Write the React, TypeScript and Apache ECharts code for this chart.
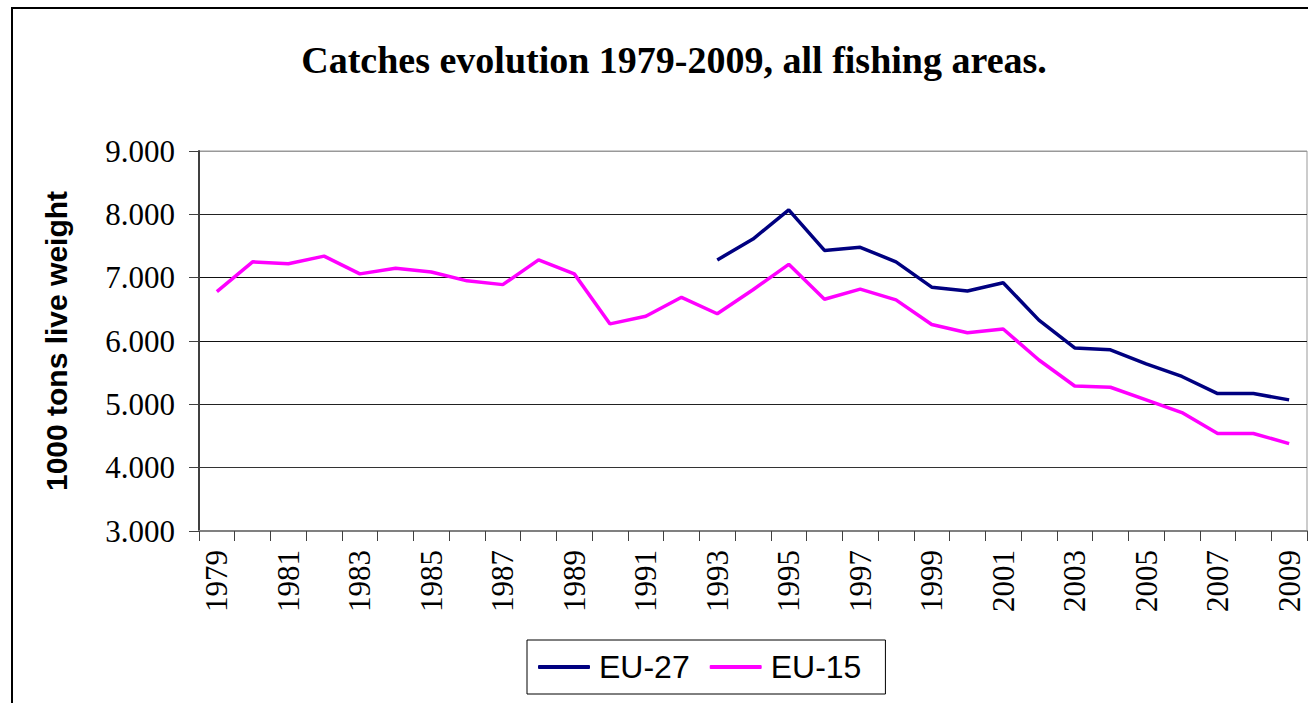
import React, { useEffect, useRef } from "react";
import * as echarts from "echarts";

const years: string[] = [
  "1979", "1980", "1981", "1982", "1983", "1984", "1985", "1986", "1987", "1988",
  "1989", "1990", "1991", "1992", "1993", "1994", "1995", "1996", "1997", "1998",
  "1999", "2000", "2001", "2002", "2003", "2004", "2005", "2006", "2007", "2008", "2009",
];

// 1000 tons live weight
const eu27: (number | null)[] = [
  null, null, null, null, null, null, null, null, null, null,
  null, null, null, null, 7280, 7610, 8070, 7430, 7480, 7250,
  6850, 6790, 6920, 6330, 5890, 5860, 5640, 5440, 5170, 5170, 5070,
];

const eu15: number[] = [
  6780, 7250, 7220, 7340, 7060, 7150, 7090, 6950, 6890, 7280,
  7060, 6270, 6390, 6690, 6430, 6810, 7210, 6660, 6820, 6650,
  6260, 6130, 6190, 5700, 5290, 5270, 5070, 4870, 4540, 4540, 4380,
];

const titleText = "Catches evolution 1979-2009, all fishing areas.";
const yAxisName = "1000 tons live weight";

const serif = "'Liberation Serif', 'Times New Roman', serif";
const sans = "'Liberation Sans', Arial, sans-serif";

export default function App() {
  const ref = useRef<HTMLDivElement>(null);

  useEffect(() => {
    if (!ref.current) return;
    const chart = echarts.init(ref.current, undefined, { renderer: "svg" });
    chart.setOption({
      animation: false,
      backgroundColor: "#ffffff",
      title: {
        text: titleText,
        left: 669,
        top: 36,
        textAlign: "center",
        textStyle: { fontFamily: serif, fontWeight: "bold", fontSize: 38, color: "#000" },
      },
      graphic: [
        {
          type: "rect",
          shape: { x: 12, y: 8, width: 1320, height: 720 },
          style: { fill: "none", stroke: "#000", lineWidth: 2 },
          silent: true,
        },
      ],
      legend: {
        left: 527,
        top: 640,
        orient: "horizontal",
        borderColor: "#000",
        borderWidth: 1,
        padding: [11, 24, 11, 11],
        itemWidth: 52,
        itemHeight: 4,
        itemGap: 20,
        icon: "roundRect",
        textStyle: { fontFamily: sans, fontSize: 32, color: "#000", padding: [0, 0, 0, 4] },
        data: ["EU-27", "EU-15"],
      },
      grid: {
        left: 199,
        right: 1,
        top: 151,
        bottom: 172,
        show: true,
        borderColor: "#999",
        borderWidth: 1,
      },
      xAxis: {
        type: "category",
        data: years,
        boundaryGap: true,
        axisLine: { show: true, lineStyle: { color: "#808080", width: 2 } },
        axisTick: { show: true, interval: 0, length: 10, lineStyle: { color: "#404040", width: 1 } },
        axisLabel: {
          interval: 1,
          rotate: 90,
          margin: 19,
          fontFamily: serif,
          fontSize: 31,
          color: "#000",
        },
        splitLine: { show: false },
      },
      yAxis: {
        type: "value",
        min: 3000,
        max: 9000,
        interval: 1000,
        name: yAxisName,
        nameLocation: "middle",
        nameRotate: 90,
        nameGap: 128,
        nameTextStyle: { fontFamily: sans, fontWeight: "bold", fontSize: 30, color: "#000" },
        axisLine: { show: true, lineStyle: { color: "#404040", width: 2 } },
        axisTick: { show: true, length: 10, lineStyle: { color: "#404040", width: 1 } },
        axisLabel: {
          margin: 24,
          fontFamily: serif,
          fontSize: 31,
          color: "#000",
          formatter: (v: number) => {
            const t = Math.floor(v / 1000);
            const r = String(v % 1000).padStart(3, "0");
            return `${t}.${r}`;
          },
        },
        splitLine: {
          show: true,
          lineStyle: {
            color: ["#808080", "#333", "#222", "#111", "#111", "#222", "#999"],
            width: 1,
          },
        },
      },
      series: [
        {
          name: "EU-27",
          type: "line",
          data: eu27,
          symbol: "none",
          connectNulls: false,
          lineStyle: { color: "#000080", width: 3.5 },
          itemStyle: { color: "#000080" },
        },
        {
          name: "EU-15",
          type: "line",
          data: eu15,
          symbol: "none",
          lineStyle: { color: "#FF00FF", width: 3.5 },
          itemStyle: { color: "#FF00FF" },
        },
      ],
    });
    return () => chart.dispose();
  }, []);

  return (
    <div
      ref={ref}
      style={{ position: "absolute", left: 0, top: 0, width: 1308, height: 703 }}
    />
  );
}
